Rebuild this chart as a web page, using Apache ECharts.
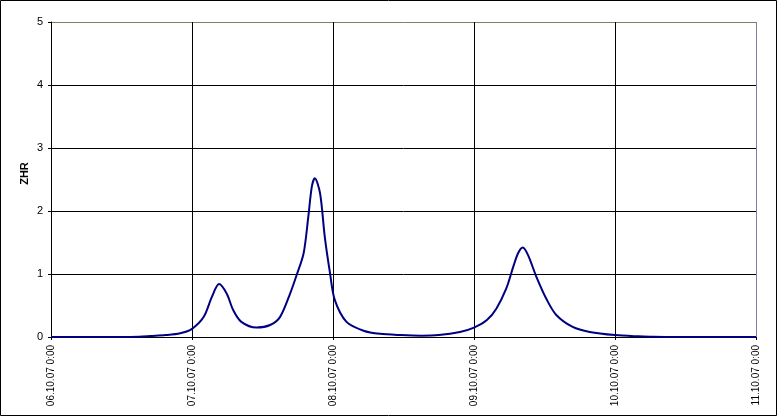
<!DOCTYPE html>
<html>
<head>
<meta charset="utf-8">
<script src="https://cdn.jsdelivr.net/npm/echarts@6/dist/echarts.min.js"></script>
<style>
html,body{margin:0;padding:0;background:#fff;}
#c{width:777px;height:416px;}
</style>
</head>
<body>
<div id="c"></div>
<script>
// Tick labels for the x axis (one per day, hours from 06.10.07 0:00)
const xTickLabels = ['06.10.07 0:00','07.10.07 0:00','08.10.07 0:00','09.10.07 0:00','10.10.07 0:00','11.10.07 0:00'];
// Hours since 06.10.07 0:00
const hours = [0,12,15,17,19.5,22,24,26,27.4,28.6,29.9,31,32.4,35,37.3,39,40.7,41.8,43,43.8,44.4,44.9,45.8,46.6,47.5,48.3,50.3,53.2,56,59.5,63,66,69.6,72,74.2,75.8,77.5,78.7,79.5,80.3,81.2,82.6,84.4,86,88.8,91.7,96,100,102,106,120];
// ZHR values
const zhr = [0,0,0.005,0.016,0.03,0.06,0.13,0.32,0.64,0.84,0.69,0.43,0.24,0.15,0.19,0.32,0.69,0.98,1.33,1.91,2.39,2.52,2.28,1.59,1.01,0.59,0.24,0.10,0.05,0.03,0.02,0.03,0.08,0.15,0.27,0.45,0.77,1.12,1.33,1.42,1.30,0.96,0.59,0.35,0.16,0.08,0.03,0.01,0.005,0,0];
const yTitle = 'ZHR';

const chart = echarts.init(document.getElementById('c'), null, {renderer:'canvas'});
const font = 'Liberation Sans, Arial, sans-serif';
chart.setOption({
  animation:false,
  backgroundColor:'#fff',
  grid:{left:51,right:21,top:22,bottom:79,containLabel:false},
  graphic:[{type:'rect',shape:{x:0.5,y:0.5,width:776,height:415},style:{fill:'none',stroke:'#000',lineWidth:1},silent:true,z:100}],
  xAxis:{
    type:'value',min:0,max:120,interval:24,
    axisLine:{show:true,lineStyle:{color:'#000',width:1}},
    axisTick:{show:true,length:3,lineStyle:{color:'#000'}},
    splitLine:{show:true,lineStyle:{color:['#000','#000','#000','#000','#000','#8080a0'],width:1}},
    axisLabel:{rotate:90,fontSize:10,color:'#000',fontFamily:font,margin:8,
      formatter:function(v){return xTickLabels[Math.round(v/24)]||'';}}
  },
  yAxis:{
    type:'value',min:0,max:5,interval:1,
    name:yTitle,nameLocation:'middle',nameGap:21,nameRotate:90,nameMoveOverlap:false,
    nameTextStyle:{fontSize:11,fontWeight:'bold',color:'#000',fontFamily:font,padding:[0,0,0,12]},
    axisLine:{show:true,lineStyle:{color:'#000',width:1}},
    axisTick:{show:true,length:3,lineStyle:{color:'#000'}},
    splitLine:{show:true,lineStyle:{color:['#000','#000','#000','#000','#000','#808060'],width:1}},
    axisLabel:{fontSize:11,color:'#000',fontFamily:font,margin:8}
  },
  series:[{
    type:'line',
    data:hours.map((h,i)=>[h,zhr[i]]),
    smooth:0.3,
    showSymbol:false,
    lineStyle:{color:'#000080',width:2},
    z:10
  }]
});
</script>
</body>
</html>
